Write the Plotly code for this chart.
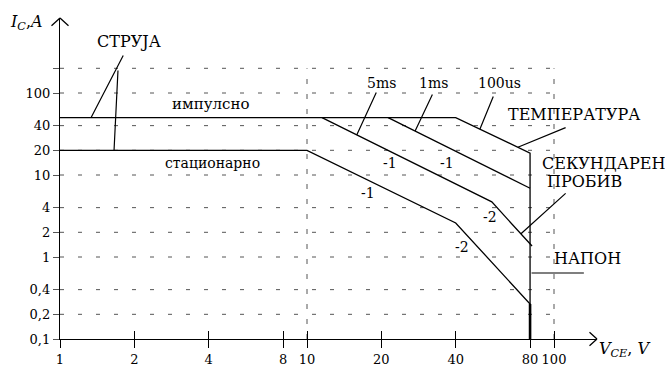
import numpy as np
import plotly.graph_objects as go

# ---- axis ticks ----
x_ticks = [1, 2, 4, 8, 10, 20, 40, 80, 100]
x_tick_text = ["1", "2", "4", "8", "10", "20", "40", "80", "100"]
y_ticks = [0.1, 0.2, 0.4, 1, 2, 4, 10, 20, 40, 100, 200]
y_tick_text = ["0,1", "0,2", "0,4", "1", "2", "4", "10", "20", "40", "100", ""]
x_grid = [10, 100]

# ---- SOA boundary curves (V_CE [V], I_C [A]) ----
stat_x = [1, 10, 40, 80, 80]
stat_y = [20, 20, 2.6, 0.267, 0.1]
ms5_x = [1, 11.5, 56, 81.5]
ms5_y = [50, 50, 4.7, 1.36]
ms1_x = [1, 21.3, 80]
ms1_y = [50, 50, 6.9]
us100_x = [1, 40, 80, 80]
us100_y = [50, 50, 18.5, 0.1]

SERIF = "DejaVu Serif"
LW = 1.3

fig = go.Figure()

# dashed grid (horizontal up to V=100, vertical at 10 and 100)
gx, gy = [], []
for yv in y_ticks[1:]:
    gx += [x_ticks[0], x_grid[-1], None]
    gy += [yv, yv, None]
fig.add_trace(go.Scatter(x=gx, y=gy, mode="lines", hoverinfo="skip",
                         line=dict(color="#555", width=1, dash="4px,14px")))
vx, vy = [], []
for xv in x_grid:
    vx += [xv, xv, None]
    vy += [y_ticks[0], y_ticks[-1], None]
fig.add_trace(go.Scatter(x=vx, y=vy, mode="lines", hoverinfo="skip",
                         line=dict(color="#555", width=1, dash="5px,10px")))

# boundary curves (shared pulse plateau drawn once, by the 100 us curve)
fig.add_trace(go.Scatter(x=stat_x, y=stat_y, mode="lines", hoverinfo="skip",
                         line=dict(color="black", width=LW)))
fig.add_trace(go.Scatter(x=stat_x[-2:], y=stat_y[-2:], mode="lines", hoverinfo="skip",
                         line=dict(color="black", width=2.6)))
fig.add_trace(go.Scatter(x=ms5_x[1:], y=ms5_y[1:], mode="lines", hoverinfo="skip",
                         line=dict(color="black", width=LW)))
fig.add_trace(go.Scatter(x=ms1_x[1:], y=ms1_y[1:], mode="lines", hoverinfo="skip",
                         line=dict(color="black", width=LW)))
fig.add_trace(go.Scatter(x=us100_x, y=us100_y, mode="lines", hoverinfo="skip",
                         xaxis="x2", line=dict(color="black", width=LW)))

L = np.log10

def label(text, x, y, size=16, xanchor="center"):
    fig.add_annotation(x=L(x), y=L(y), text=text, showarrow=False,
                       xanchor=xanchor, yanchor="middle",
                       font=dict(family=SERIF, size=size, color="black"))

def pointer(x0, y0, x1, y1):
    fig.add_annotation(x=L(x1), y=L(y1), ax=L(x0), ay=L(y0), axref="x", ayref="y",
                       text="", showarrow=True, arrowhead=0, arrowwidth=1.2,
                       arrowcolor="black", standoff=0, startstandoff=0)

label("СТРУЈА", 1.903, 419, 16)
label("импулсно", 4.05, 73.5, 15)
label("стационарно", 4.16, 14.0, 14)
label("5ms", 20.1, 132.4, 14)
label("1ms", 32.4, 132.4, 14)
label("100us", 60.4, 132.4, 14)
label("-1", 21.7, 14.0, 14)
label("-1", 36.9, 14.0, 14)
label("-1", 17.7, 6.03, 14)
label("-2", 55.1, 3.08, 14)
label("-2", 42.5, 1.32, 14)
label("ТЕМПЕРАТУРА", 120.5, 54.0, 16)
label("СЕКУНДАРЕН", 87.7, 13.8, 16, "left")
label("ПРОБИВ", 92.0, 8.3, 16, "left")
label("НАПОН", 136.1, 0.946, 16)

pointer(1.816, 299, 1.335, 50)
pointer(1.718, 196, 1.655, 20)
pointer(19.2, 105.7, 15.9, 30.8)
pointer(32.4, 100, 27.4, 34.4)
pointer(57.1, 94.6, 50.1, 36.1)
pointer(113, 38.5, 71.4, 21.8)
pointer(113, 6.21, 73.5, 1.92)
pointer(80, 0.638, 132.1, 0.638)

# axis arrow heads (open chevrons)
for ax_, ay_ in [(-9, -8), (-9, 8)]:
    fig.add_annotation(x=1, y=0, xref="paper", yref="paper", ax=ax_, ay=ay_,
                       text="", showarrow=True, arrowhead=0, arrowwidth=LW,
                       arrowcolor="black", standoff=0)
for ax_, ay_ in [(-10, 9), (10, 9)]:
    fig.add_annotation(x=0, y=1, xref="paper", yref="paper", ax=ax_, ay=ay_,
                       text="", showarrow=True, arrowhead=0, arrowwidth=LW,
                       arrowcolor="black", standoff=0)

# axis titles
fig.add_annotation(x=-0.0968, y=0.9875, xref="paper", yref="paper", showarrow=False,
                   xanchor="left", yanchor="middle",
                   text="<i>I</i><sub><i>C</i></sub>,<i>A</i>",
                   font=dict(family=SERIF, size=16, color="black"))
fig.add_annotation(x=1.0, y=-0.034, xref="paper", yref="paper", showarrow=False,
                   xanchor="left", yanchor="middle",
                   text="<i>V</i><sub><i>CE</i></sub>, <i>V</i>",
                   font=dict(family=SERIF, size=16, color="black"))

xr = [0, 2.1741]
fig.update_layout(
    width=665, height=372,
    margin=dict(l=60, r=68, t=18, b=33, autoexpand=False),
    paper_bgcolor="white", plot_bgcolor="white",
    showlegend=False,
    font=dict(family=SERIF, size=13, color="black"),
    xaxis=dict(type="log", range=xr, tickvals=x_ticks, ticktext=x_tick_text,
               ticks="outside", ticklen=8, tickwidth=LW, tickcolor="black",
               showgrid=False, zeroline=False, showline=True, linecolor="black",
               linewidth=LW, automargin=False,
               tickfont=dict(family=SERIF, size=13, color="black")),
    xaxis2=dict(type="log", range=xr, overlaying="x", anchor="y", side="bottom",
                tickvals=x_ticks, ticks="inside", ticklen=8, tickwidth=LW,
                tickcolor="black", showticklabels=False, showgrid=False,
                zeroline=False, showline=False, automargin=False),
    yaxis=dict(type="log", range=[-1, 2.9146], tickvals=y_ticks, ticktext=y_tick_text,
               ticks="outside", ticklen=6, tickwidth=1, tickcolor="#555",
               showgrid=False, zeroline=False, showline=True, linecolor="black",
               linewidth=LW, automargin=False,
               tickfont=dict(family=SERIF, size=13, color="black")),
)

fig.write_html("out.html", config={"displayModeBar": False},
               post_script="document.body.style.margin='0';")
